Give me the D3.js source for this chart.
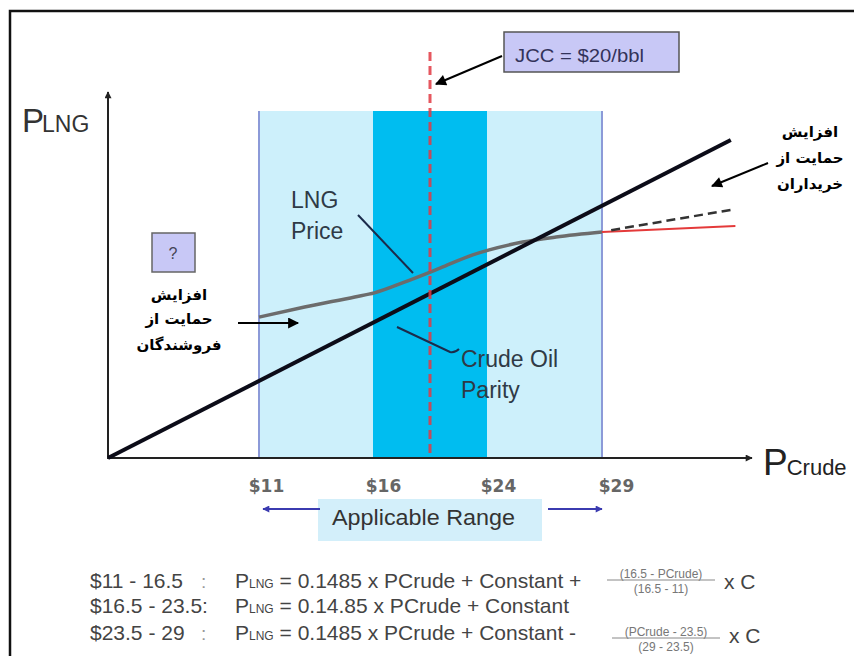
<!DOCTYPE html>
<html>
<head>
<meta charset="utf-8">
<script src="https://cdn.jsdelivr.net/npm/d3@7"></script>
<style>
body{margin:0;background:#fff;}
svg{display:block;font-family:"Liberation Sans",Arial,sans-serif;}
</style>
</head>
<body>
<div id="chart"></div>
<script>
// crude price ticks (schematic axis, band edges)
var crudeTicks = [11, 16, 24, 29];
var tickLabels = ['$11', '$16', '$24', '$29'];
var applicable = [11, 29];
var coreBand = [16, 24];
var jcc = 20;

// crude oil parity line
var parityCrude = [0, 34.6];
var parityLng = [0, 6.95];

// LNG price S-curve
var lngCrude = [11, 13, 15.2, 16.1, 18.25, 20.7, 23, 24.1, 25.55, 27, 29];
var lngPrice = [3.08, 3.30, 3.52, 3.61, 3.85, 4.15, 4.44, 4.55, 4.72, 4.83, 4.94];

// beyond the range: capped (red) and open (dashed)
var capCrude = [29, 34.8];
var capPrice = [4.94, 5.07];
var openCrude = [29.4, 34.8];
var openPrice = [4.98, 5.44];

// formula rows
var formulaRanges = ['$11 - 16.5', '$16.5 - 23.5:', '$23.5 - 29'];
var formulaBodies = [' = 0.1485 x PCrude + Constant +', ' = 0.14.85 x PCrude + Constant', ' = 0.1485 x PCrude + Constant -'];
var fracTop = ['(16.5 - PCrude)', null, '(PCrude - 23.5)'];
var fracBottom = ['(16.5 - 11)', null, '(29 - 23.5)'];

var width = 854, height = 656;

var svg = d3.select('#chart').append('svg')
    .attr('width', width)
    .attr('height', height);

var x = d3.scaleLinear()
    .domain([0, 11, 16, 24, 29])
    .range([108, 259, 373, 487, 602]);
var y = d3.scaleLinear()
    .domain([0, 8])
    .range([458, 92]);

// arrow heads
var defs = svg.append('defs');
function marker(id, color, w, h) {
    defs.append('marker')
        .attr('id', id)
        .attr('viewBox', '0 0 10 10')
        .attr('refX', 9).attr('refY', 5)
        .attr('markerUnits', 'userSpaceOnUse')
        .attr('markerWidth', w).attr('markerHeight', h)
        .attr('orient', 'auto')
        .append('path').attr('d', 'M0,0L10,5L0,10z').attr('fill', color);
}
marker('arr', '#000', 14, 11);
marker('axarr', '#222', 8, 7);
marker('blue', '#3b3bb0', 10, 7);

// frame
svg.append('path')
    .attr('d', 'M10,' + height + 'V11H' + width)
    .attr('fill', 'none').attr('stroke', '#111').attr('stroke-width', 2.5);

// bands
var bandTop = 111;
svg.append('rect')
    .attr('x', x(applicable[0])).attr('y', bandTop)
    .attr('width', x(applicable[1]) - x(applicable[0]))
    .attr('height', y(0) - bandTop)
    .attr('fill', '#cdf0fb');
svg.append('rect')
    .attr('x', x(coreBand[0])).attr('y', bandTop)
    .attr('width', x(coreBand[1]) - x(coreBand[0]))
    .attr('height', y(0) - bandTop)
    .attr('fill', '#00bdf0');
svg.selectAll('.edge')
    .data(applicable)
    .enter().append('line')
    .attr('class', 'edge')
    .attr('x1', d => x(d)).attr('x2', d => x(d))
    .attr('y1', bandTop).attr('y2', y(0))
    .attr('stroke', '#8c9ad8').attr('stroke-width', 2);

// axes
svg.append('line')
    .attr('x1', x(0)).attr('y1', y(0))
    .attr('x2', 752).attr('y2', y(0))
    .attr('stroke', '#222').attr('stroke-width', 2)
    .attr('marker-end', 'url(#axarr)');
svg.append('line')
    .attr('x1', x(0)).attr('y1', y(0) + 1)
    .attr('x2', x(0)).attr('y2', 92)
    .attr('stroke', '#222').attr('stroke-width', 2)
    .attr('marker-end', 'url(#axarr)');

var xAxis = svg.append('g')
    .attr('transform', 'translate(0,' + y(0) + ')')
    .call(d3.axisBottom(x).tickValues(crudeTicks).tickSize(0)
        .tickFormat((d, i) => tickLabels[i]));
xAxis.select('.domain').remove();
xAxis.selectAll('text')
    .attr('dx', (d, i) => [7, 10, 11, 14][i])
    .attr('y', 34).attr('dy', 0)
    .attr('font-size', 17).attr('font-weight', 'bold')
    .attr('font-family', '"DejaVu Sans", sans-serif')
    .attr('fill', '#666');

// axis titles
var pl = svg.append('text').attr('x', 22).attr('y', 132).attr('fill', '#333');
pl.append('tspan').attr('font-size', 33).text('P');
pl.append('tspan').attr('font-size', 23).attr('dx', -2).text('LNG');
var pc = svg.append('text').attr('x', 763).attr('y', 475).attr('fill', '#222');
pc.append('tspan').attr('font-size', 37).text('P');
pc.append('tspan').attr('font-size', 22).attr('dx', -1).text('Crude');

// curves
var line = d3.line().x(d => x(d[0])).y(d => y(d[1]));
var curve = d3.line().x(d => x(d[0])).y(d => y(d[1])).curve(d3.curveMonotoneX);

svg.append('path')
    .datum(lngCrude.map((c, i) => [c, lngPrice[i]]))
    .attr('d', curve)
    .attr('fill', 'none').attr('stroke', '#6c6c6c').attr('stroke-width', 3.5);

svg.append('path')
    .datum(capCrude.map((c, i) => [c, capPrice[i]]))
    .attr('d', line)
    .attr('fill', 'none').attr('stroke', '#e43a3a').attr('stroke-width', 2);

svg.append('path')
    .datum(openCrude.map((c, i) => [c, openPrice[i]]))
    .attr('d', line)
    .attr('fill', 'none').attr('stroke', '#333').attr('stroke-width', 2.5)
    .attr('stroke-dasharray', '9,5');

svg.append('path')
    .datum(parityCrude.map((c, i) => [c, parityLng[i]]))
    .attr('d', line)
    .attr('fill', 'none').attr('stroke', '#0c0c18').attr('stroke-width', 4);

// JCC marker
svg.append('line')
    .attr('x1', x(jcc)).attr('x2', x(jcc))
    .attr('y1', 52).attr('y2', y(0))
    .attr('stroke', '#e23a44').attr('stroke-width', 3)
    .attr('stroke-dasharray', '9,5').attr('opacity', 0.85);

svg.append('rect')
    .attr('x', 504).attr('y', 32).attr('width', 175).attr('height', 40)
    .attr('fill', '#c8c8f6').attr('stroke', '#555').attr('stroke-width', 1.5);
svg.append('text')
    .attr('x', 515).attr('y', 62)
    .attr('font-size', 19).attr('fill', '#33335a')
    .attr('textLength', 129).attr('lengthAdjust', 'spacingAndGlyphs')
    .text('JCC = $20/bbl');
svg.append('line')
    .attr('x1', 502).attr('y1', 56).attr('x2', x(jcc) + 6).attr('y2', 84)
    .attr('stroke', '#000').attr('stroke-width', 2)
    .attr('marker-end', 'url(#arr)');

// question box
svg.append('rect')
    .attr('x', 152).attr('y', 233).attr('width', 43).attr('height', 39)
    .attr('fill', '#c8c8f6').attr('stroke', '#666').attr('stroke-width', 1.5);
svg.append('text')
    .attr('x', 173).attr('y', 259).attr('text-anchor', 'middle')
    .attr('font-size', 16).attr('fill', '#445').text('?');

// curve labels
var labelColor = '#2f3a46';
function label(lines, x0, y0) {
    svg.append('g').selectAll('text').data(lines).enter().append('text')
        .attr('x', x0).attr('y', (d, i) => y0 + i * 31)
        .attr('font-size', 23).attr('fill', labelColor)
        .text(d => d);
}
label(['LNG', 'Price'], 291, 208);
label(['Crude Oil', 'Parity'], 461, 367);
svg.append('line')
    .attr('x1', 358).attr('y1', 215).attr('x2', 413).attr('y2', 273)
    .attr('stroke', '#1b2b4b').attr('stroke-width', 2);
svg.append('path')
    .attr('d', 'M397,327L450,352Q455,353 459,349')
    .attr('fill', 'none').attr('stroke', '#1b2b4b').attr('stroke-width', 2);

// Persian notes
function note(lines, cx, ys) {
    svg.append('g').selectAll('text').data(lines).enter().append('text')
        .attr('x', cx).attr('y', (d, i) => ys[i])
        .attr('text-anchor', 'middle')
        .attr('font-family', '"DejaVu Sans", sans-serif')
        .attr('font-weight', 'bold').attr('font-size', 15)
        .attr('fill', '#000')
        .text(d => d);
}
note(['افزایش', 'حمایت از', 'فروشندگان'], 179, [300, 324, 350]);
note(['افزایش', 'حمایت از', 'خریداران'], 810, [137, 163, 189]);
svg.append('line')
    .attr('x1', 238).attr('y1', 323).attr('x2', 298).attr('y2', 323)
    .attr('stroke', '#000').attr('stroke-width', 2)
    .attr('marker-end', 'url(#arr)');
svg.append('line')
    .attr('x1', 768).attr('y1', 163).attr('x2', 712).attr('y2', 186)
    .attr('stroke', '#000').attr('stroke-width', 2)
    .attr('marker-end', 'url(#arr)');

// applicable range
svg.append('rect')
    .attr('x', 318).attr('y', 499).attr('width', 224).attr('height', 42)
    .attr('fill', '#d3effa');
svg.append('text')
    .attr('x', 332).attr('y', 525)
    .attr('font-size', 22).attr('fill', '#333')
    .attr('textLength', 183).attr('lengthAdjust', 'spacingAndGlyphs')
    .text('Applicable Range');
svg.append('line')
    .attr('x1', 320).attr('y1', 509).attr('x2', x(applicable[0]) + 4).attr('y2', 509)
    .attr('stroke', '#3b3bb0').attr('stroke-width', 2)
    .attr('marker-end', 'url(#blue)');
svg.append('line')
    .attr('x1', 548).attr('y1', 509).attr('x2', x(applicable[1])).attr('y2', 509)
    .attr('stroke', '#3b3bb0').attr('stroke-width', 2)
    .attr('marker-end', 'url(#blue)');

// formulas
var rowY = [588, 613, 640];
var fColor = '#444';
formulaRanges.forEach(function (r, i) {
    svg.append('text').attr('x', 90).attr('y', rowY[i])
        .attr('font-size', 21).attr('fill', fColor).text(r);
    if (i !== 1) {
        svg.append('text').attr('x', 201).attr('y', rowY[i])
            .attr('font-size', 19).attr('fill', '#999').text(':');
    }
    var t = svg.append('text').attr('x', 235).attr('y', rowY[i])
        .attr('font-size', 21).attr('fill', fColor);
    t.append('tspan').text('P');
    t.append('tspan').attr('font-size', 12).text('LNG');
    t.append('tspan').text(formulaBodies[i]);

    if (fracTop[i]) {
        var cx = i === 0 ? 661 : 666;
        var fy = i === 0 ? 578 : 636;
        svg.append('text').attr('x', cx).attr('y', fy)
            .attr('text-anchor', 'middle').attr('font-size', 12)
            .attr('fill', '#777').text(fracTop[i]);
        svg.append('line')
            .attr('x1', cx - 54).attr('x2', cx + 54)
            .attr('y1', fy + 2).attr('y2', fy + 2)
            .attr('stroke', '#888').attr('stroke-width', 1);
        svg.append('text').attr('x', cx).attr('y', fy + 15)
            .attr('text-anchor', 'middle').attr('font-size', 12)
            .attr('fill', '#777').text(fracBottom[i]);
        svg.append('text').attr('x', cx + 63).attr('y', fy + (i === 0 ? 11 : 7))
            .attr('font-size', 21).attr('fill', fColor).text('x C');
    }
});
</script>
</body>
</html>
